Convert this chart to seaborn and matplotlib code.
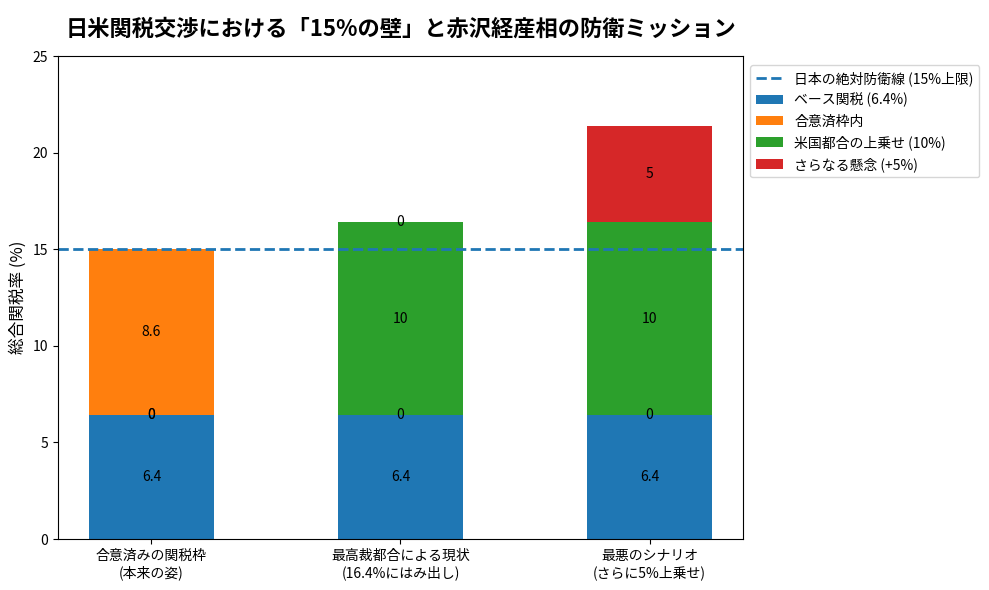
import numpy as np
import matplotlib
matplotlib.use("Agg")
import matplotlib.pyplot as plt
import seaborn as sns

# data
categories = ["合意済みの関税枠\n(本来の姿)", "最高裁都合による現状\n(16.4%にはみ出し)", "最悪のシナリオ\n(さらに5%上乗せ)"]
base = [6.4, 6.4, 6.4]
agreed = [8.6, 0, 0]
us_add = [0, 10, 10]
extra = [0, 0, 5]
limit = 15

sns.set_style("ticks", {"axes.edgecolor": "black", "xtick.color": "black", "ytick.color": "black",
                        "text.color": "black", "axes.labelcolor": "black"})
plt.rcParams["font.family"] = ["Noto Sans CJK JP", "DejaVu Sans"]

fig, ax = plt.subplots(figsize=(9.89, 5.9), dpi=100)
fig.subplots_adjust(left=0.0586, right=0.7513, top=0.905, bottom=0.0864)

ax.axhline(limit, color="#1f77b4", linestyle="--", linewidth=2, label="日本の絶対防衛線 (15%上限)")

# orange and green both start on top of the base, red on top of green
red_bottom = list(np.array(base) + np.array(us_add))
bar_kw = dict(saturation=1, width=0.5, errorbar=None, linewidth=0, edgecolor="none", ax=ax)
sns.barplot(x=categories, y=base, color="#1f77b4", label="ベース関税 (6.4%)", **bar_kw)
sns.barplot(x=categories, y=agreed, bottom=base, color="#ff7f0e", label="合意済枠内", **bar_kw)
sns.barplot(x=categories, y=us_add, bottom=base, color="#2ca02c", label="米国都合の上乗せ (10%)", **bar_kw)
sns.barplot(x=categories, y=extra, bottom=red_bottom, color="#d62728", label="さらなる懸念 (+5%)", **bar_kw)

for c in ax.containers:
    ax.bar_label(c, label_type="center", fontsize=10)

for s in ax.spines.values():
    s.set_visible(True)
    s.set_color("black")
    s.set_linewidth(0.8)

ax.set_xlim(-0.375, 2.375)
ax.set_ylim(0, 25)
ax.set_yticks([0, 5, 10, 15, 20, 25])
ax.tick_params(labelsize=10)
ax.set_ylabel("総合関税率 (%)", fontsize=12)
ax.set_xlabel("")
ax.set_title("日米関税交渉における「15%の壁」と赤沢経産相の防衛ミッション", fontsize=16, fontweight="bold", pad=15)
ax.legend(loc="upper left", bbox_to_anchor=(1.0, 0.995), fontsize=10)

fig.savefig("out.png", dpi=100)
